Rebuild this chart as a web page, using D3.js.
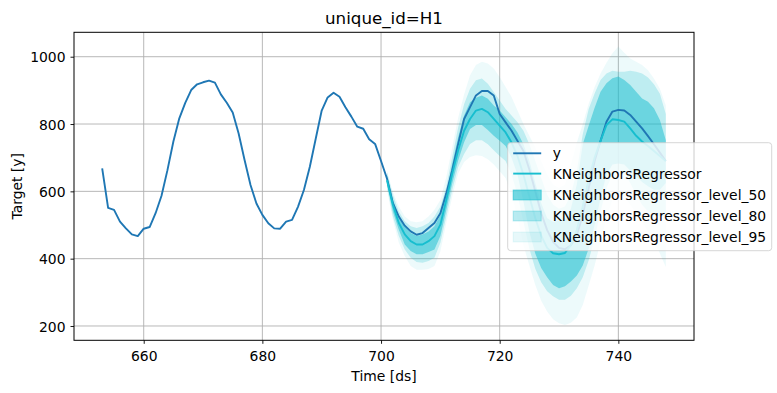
<!DOCTYPE html>
<html>
<head>
<meta charset="utf-8">
<script src="https://cdn.jsdelivr.net/npm/d3@7"></script>
<style>
  body { margin: 0; background: #fff; }
  text { font-family: "DejaVu Sans", sans-serif; fill: #000; }
</style>
</head>
<body>
<script>
// history: ds 653..700
const histDs = d3.range(653, 701);
const histY = [668, 551, 545, 510, 490, 472, 467, 489, 494, 535, 587, 663, 748, 817, 863, 901,
  918, 924, 929, 923, 888, 863, 834, 772, 693, 619, 564, 530, 505, 490, 489, 510,
  515, 554, 604, 673, 757, 840, 879, 893, 881, 850, 822, 792, 786, 755, 741, 690];

// forecast horizon: ds 701..748
const fcDs = d3.range(701, 749);
const fcY = [638, 565, 525, 498, 481, 471, 476, 491, 506, 535,
  594, 663, 741, 815, 850, 885, 898, 898, 885, 830,
  805, 780, 750, 720, 665, 600, 535, 485, 450, 432,
  428, 440, 470, 530, 610, 690, 750, 807, 837, 842,
  840, 827, 807, 787, 764, 740, 715, 690];
const knn = [633, 560, 506, 472, 452, 442, 442, 452, 467, 501,
  575, 653, 722, 780, 815, 840, 845, 835, 815, 795,
  775, 745, 705, 650, 585, 520, 468, 432, 416, 413,
  417, 440, 485, 555, 635, 700, 750, 797, 814, 812,
  807, 787, 765, 748, 735, 720, 705, 690];
const lo50 = [623, 540, 486, 442, 423, 413, 413, 420, 427, 467,
  545, 624, 692, 746, 785, 797, 797, 782, 765, 750,
  735, 700, 650, 570, 480, 415, 372, 345, 322, 312,
  318, 332, 350, 380, 430, 500, 580, 650, 680, 683,
  680, 662, 645, 628, 615, 605, 605, 625];
const hi50 = [648, 575, 525, 496, 476, 467, 472, 481, 496, 530,
  594, 682, 761, 825, 865, 878, 885, 875, 855, 840,
  820, 800, 775, 740, 690, 625, 565, 520, 510, 514,
  516, 548, 620, 740, 795, 848, 896, 921, 936, 941,
  931, 916, 896, 876, 866, 847, 812, 752];
const lo80 = [614, 525, 467, 427, 403, 390, 388, 393, 403, 447,
  525, 604, 672, 711, 741, 752, 752, 740, 722, 705,
  690, 650, 590, 510, 430, 370, 330, 303, 288, 278,
  278, 290, 312, 345, 395, 460, 540, 610, 650, 665,
  655, 625, 590, 560, 540, 530, 525, 530];
const hi80 = [657, 589, 540, 511, 496, 491, 496, 506, 525, 555,
  614, 702, 790, 859, 905, 930, 935, 920, 895, 870,
  845, 825, 805, 780, 740, 690, 640, 590, 560, 548,
  555, 590, 660, 770, 845, 891, 931, 950, 958, 955,
  955, 958, 955, 950, 938, 918, 890, 830];
const lo95 = [604, 516, 447, 408, 378, 367, 367, 369, 378, 422,
  506, 584, 653, 687, 702, 707, 705, 695, 680, 660,
  640, 590, 520, 440, 380, 322, 275, 243, 220, 208,
  203, 210, 225, 262, 320, 380, 450, 520, 575, 594,
  585, 560, 535, 510, 480, 450, 415, 375];
const hi95 = [662, 598, 555, 525, 511, 508, 511, 525, 545, 574,
  643, 731, 819, 888, 945, 975, 985, 980, 965, 940,
  910, 880, 840, 800, 765, 730, 690, 650, 620, 610,
  620, 680, 745, 800, 860, 910, 950, 982, 1010, 1030,
  1012, 995, 985, 975, 960, 935, 905, 855];

const xTicks = [660, 680, 700, 720, 740];
const yTicks = [200, 400, 600, 800, 1000];
const legendLabels = ['y', 'KNeighborsRegressor', 'KNeighborsRegressor_level_50',
  'KNeighborsRegressor_level_80', 'KNeighborsRegressor_level_95'];

const W = 777, H = 393;
const plot = { left: 74, right: 694, top: 32.3, bottom: 340.3 };
const yColor = '#1f77b4', knnColor = '#17becf';
const fs = '13.9px';

const svg = d3.select('body').append('svg')
  .attr('width', W).attr('height', H)
  .style('display', 'block');
svg.append('rect').attr('width', W).attr('height', H).attr('fill', '#fff');

const x = d3.scaleLinear().domain([648.25, 752.75]).range([plot.left, plot.right]);
const y = d3.scaleLinear().domain([157.5, 1072.5]).range([plot.bottom, plot.top]);

// grid
const grid = svg.append('g').attr('stroke', '#b0b0b0').attr('stroke-width', 0.9);
grid.selectAll('.gx').data(xTicks).join('line')
  .attr('x1', d => x(d)).attr('x2', d => x(d))
  .attr('y1', plot.top).attr('y2', plot.bottom);
grid.selectAll('.gy').data(yTicks).join('line')
  .attr('x1', plot.left).attr('x2', plot.right)
  .attr('y1', d => y(d)).attr('y2', d => y(d));

// axes
const gx = svg.append('g')
  .attr('transform', `translate(0,${plot.bottom})`)
  .call(d3.axisBottom(x).tickValues(xTicks).tickFormat(d3.format('d'))
    .tickSize(3.5).tickPadding(5));
gx.selectAll('text').attr('y', 21.2).attr('dy', null);
const gy = svg.append('g')
  .attr('transform', `translate(${plot.left},0)`)
  .call(d3.axisLeft(y).tickValues(yTicks).tickFormat(d3.format('d'))
    .tickSize(3.5).tickPadding(5));
gy.selectAll('text').attr('dy', '0.36em');
[gx, gy].forEach(g => {
  g.select('.domain').remove();
  g.selectAll('text').style('font-size', fs).attr('fill', '#000');
  g.selectAll('line').attr('stroke', '#000').attr('stroke-width', 0.9);
});

// bands (drawn under the lines)
const bands = [
  { lo: lo95, hi: hi95, op: 0.08 },
  { lo: lo80, hi: hi80, op: 0.22 },
  { lo: lo50, hi: hi50, op: 0.5 }
];
const area = d3.area()
  .x((d, i) => x(fcDs[i]))
  .y0(d => y(d[0]))
  .y1(d => y(d[1]));
bands.forEach(b => {
  svg.append('path')
    .datum(b.lo.map((v, i) => [v, b.hi[i]]))
    .attr('d', area)
    .attr('fill', knnColor)
    .attr('fill-opacity', b.op);
});

const line = d3.line().x(d => x(d[0])).y(d => y(d[1]));
const yAll = histDs.map((d, i) => [d, histY[i]]).concat(fcDs.map((d, i) => [d, fcY[i]]));
svg.append('path').datum(yAll).attr('d', line)
  .attr('fill', 'none').attr('stroke', yColor).attr('stroke-width', 1.9)
  .attr('stroke-linejoin', 'round');
svg.append('path').datum(fcDs.map((d, i) => [d, knn[i]])).attr('d', line)
  .attr('fill', 'none').attr('stroke', knnColor).attr('stroke-width', 1.9)
  .attr('stroke-linejoin', 'round');

// frame
svg.append('rect')
  .attr('x', plot.left).attr('y', plot.top)
  .attr('width', plot.right - plot.left).attr('height', plot.bottom - plot.top)
  .attr('fill', 'none').attr('stroke', '#000').attr('stroke-width', 1);

// title and labels
svg.append('text').attr('x', (plot.left + plot.right) / 2).attr('y', 24)
  .attr('text-anchor', 'middle').style('font-size', '16.7px').text('unique_id=H1');
svg.append('text').attr('x', (plot.left + plot.right) / 2).attr('y', 381)
  .attr('text-anchor', 'middle').style('font-size', fs).text('Time [ds]');
svg.append('text')
  .attr('transform', `translate(22,${(plot.top + plot.bottom) / 2}) rotate(-90)`)
  .attr('text-anchor', 'middle').style('font-size', fs).text('Target [y]');

// legend
const lg = svg.append('g').attr('transform', 'translate(507.7,142.7)');
lg.append('rect').attr('width', 264).attr('height', 108).attr('rx', 3)
  .attr('fill', '#fff').attr('fill-opacity', 0.8)
  .attr('stroke', '#cccccc').attr('stroke-opacity', 0.8).attr('stroke-width', 1);
const rowY = [10.6, 30.9, 52.3, 73.3, 94.3];
const patchOp = [null, null, 0.6, 0.3, 0.1];
legendLabels.forEach((lab, i) => {
  const ry = rowY[i];
  if (i < 2) {
    lg.append('line').attr('x1', 5.5).attr('x2', 33.5).attr('y1', ry).attr('y2', ry)
      .attr('stroke', i === 0 ? yColor : knnColor).attr('stroke-width', 1.9);
  } else {
    lg.append('rect').attr('x', 5.5).attr('y', ry - 4.9).attr('width', 28).attr('height', 9.8)
      .attr('fill', knnColor).attr('fill-opacity', patchOp[i])
      .attr('stroke', knnColor).attr('stroke-opacity', patchOp[i]);
  }
  lg.append('text').attr('x', 45).attr('y', ry).attr('dy', '0.36em')
    .style('font-size', fs).text(lab);
});
</script>
</body>
</html>
